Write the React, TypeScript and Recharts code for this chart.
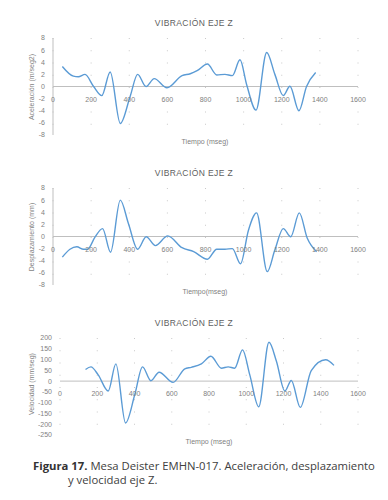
import React from 'react';
import { LineChart, Line, XAxis, YAxis, CartesianGrid, ReferenceLine } from 'recharts';

// Aceleración (m/seg2)
const accTime = [49, 107, 133, 168, 212, 256, 300, 353, 405, 444, 488, 531, 598, 677, 720, 756, 810, 859, 902, 941, 981, 1016, 1065, 1121, 1164, 1208, 1243, 1290, 1330, 1378];
const accValues = [3.3, 1.7, 1.6, 2.0, 0.05, -1.5, 2.4, -6.1, -1.6, 2.0, 0, 1.3, -0.2, 1.8, 2.1, 2.6, 3.7, 1.9, 2.0, 1.8, 4.4, 0.3, -3.9, 5.6, 2.0, -1.5, 0.05, -4.0, 0, 2.3];

// Desplazamiento (mm)
const dispTime = [49, 89, 125, 160, 181, 221, 260, 302, 353, 396, 444, 489, 537, 602, 677, 738, 810, 859, 902, 941, 984, 1025, 1068, 1124, 1164, 1208, 1247, 1292, 1334, 1383];
const dispValues = [-3.4, -2.1, -1.7, -2.1, -2.1, -0.05, 1.3, -2.6, 6.0, 2.1, -2.1, -0.05, -1.5, 0.1, -1.85, -2.5, -3.75, -2.1, -2.1, -2.0, -4.5, 1.0, 3.9, -5.8, -2.2, 1.3, -0.05, 3.9, -0.3, -2.5];

// Velocidad (mm/seg)
const velTime = [137, 166, 205, 259, 300, 352, 402, 443, 488, 532, 607, 670, 705, 759, 810, 867, 903, 938, 980, 1019, 1067, 1122, 1162, 1207, 1242, 1290, 1349, 1426, 1471];
const velValues = [54, 66, 29, -46, 80, -194, -61, 66, 2, 41, -6, 57, 64, 80, 115, 60, 66, 60, 145, 29, -119, 180, 92, -46, 3, -122, 49, 99, 73];

const xTicks = [0, 200, 400, 600, 800, 1000, 1200, 1400, 1600];
const accTicks = [-8, -6, -4, -2, 0, 2, 4, 6, 8];
const dispTicks = [-8, -6, -4, -2, 0, 2, 4, 6, 8];
const velTicks = [-250, -200, -150, -100, -50, 0, 50, 100, 150, 200];

const toRows = (t: number[], v: number[]) => t.map((x, i) => ({ t: x, v: v[i] }));

const gray = '#7f7f7f';
const font = 'Liberation Sans, Arial, sans-serif';

type PanelProps = {
  top: number;
  rows: { t: number; v: number }[];
  yTicks: number[];
  left: number;
  yLine: boolean;
  title: string;
  yLabel: string;
  xLabel: string;
  xLabelX: number;
  yLabelY: number;
};

function Panel({ top, rows, yTicks, left, yLine, title, yLabel, xLabel, xLabelX, yLabelY }: PanelProps) {
  const height = 150;
  const margin = { top: 38, right: 30, bottom: 14, left: left - 20 };
  const min = yTicks[0];
  const max = yTicks[yTicks.length - 1];
  const plotH = height - margin.top - margin.bottom;
  const zeroY = margin.top + (plotH * max) / (max - min);

  const XTick = (props: any) => (
    <text x={props.x} y={zeroY + 14.5} textAnchor="middle" fontSize={7} fill={gray} fontFamily={font}>
      {props.payload.value}
    </text>
  );

  return (
    <div style={{ position: 'absolute', left: 0, top, width: 388, height }}>
      <div style={{ position: 'absolute', left: 0, width: 388, top: 18, textAlign: 'center', fontSize: 8.5, color: '#606060', fontFamily: font, letterSpacing: 0.4 }}>
        {title}
      </div>
      <LineChart width={388} height={height} margin={margin} data={rows}>
        <CartesianGrid horizontal={false} stroke="#c8c8c8" strokeDasharray="1 11.25" />
        <XAxis
          dataKey="t"
          type="number"
          domain={[0, 1600]}
          ticks={xTicks}
          interval={0}
          axisLine={false}
          tickLine={false}
          height={1}
          tick={XTick}
        />
        <YAxis
          type="number"
          domain={[min, max]}
          ticks={yTicks}
          interval={0}
          width={20}
          axisLine={yLine ? { stroke: '#bfbfbf' } : false}
          tickLine={false}
          tick={{ fontSize: 7, fill: gray, fontFamily: font }}
        />
        <ReferenceLine y={0} stroke="#bfbfbf" strokeWidth={1} />
        <Line
          dataKey="v"
          type="monotone"
          stroke="#5b9bd5"
          strokeWidth={1.4}
          dot={false}
          isAnimationActive={false}
        />
      </LineChart>
      <div style={{ position: 'absolute', left: xLabelX - 60, width: 120, top: height - 12, textAlign: 'center', fontSize: 7, color: gray, fontFamily: font }}>
        {xLabel}
      </div>
      <div
        style={{
          position: 'absolute',
          left: 32 - 60,
          top: yLabelY - 5,
          width: 120,
          height: 10,
          lineHeight: '10px',
          textAlign: 'center',
          fontSize: 7,
          color: gray,
          fontFamily: font,
          transform: 'rotate(-90deg)',
        }}
      >
        {yLabel}
      </div>
    </div>
  );
}

export default function App() {
  return (
    <div style={{ position: 'absolute', left: 0, top: 0, width: 388, height: 500, background: '#fff' }}>
      <Panel top={0} rows={toRows(accTime, accValues)} yTicks={accTicks} left={53} yLine title="VIBRACIÓN EJE Z" yLabel="Aceleración (m/seg2)" xLabel="Tiempo (mseg)" xLabelX={205} yLabelY={87} />
      <Panel top={150} rows={toRows(dispTime, dispValues)} yTicks={dispTicks} left={53} yLine title="VIBRACIÓN EJE Z" yLabel="Desplazamiento (mm)" xLabel="Tiempo(mseg)" xLabelX={205} yLabelY={87} />
      <Panel top={300} rows={toRows(velTime, velValues)} yTicks={velTicks} left={60} yLine={false} title="VIBRACIÓN EJE Z" yLabel="Velocidad (mm/seg)" xLabel="Tiempo (mseg)" xLabelX={209} yLabelY={84} />
      <div style={{ position: 'absolute', left: 33, top: 459, fontSize: 11.3, lineHeight: '14px', color: '#404040', fontFamily: 'Open Sans, sans-serif' }}>
        <div><b style={{ color: '#333' }}>Figura 17.</b> Mesa Deister EMHN-017. Aceleración, desplazamiento</div>
        <div style={{ paddingLeft: 35 }}>y velocidad eje Z.</div>
      </div>
    </div>
  );
}
